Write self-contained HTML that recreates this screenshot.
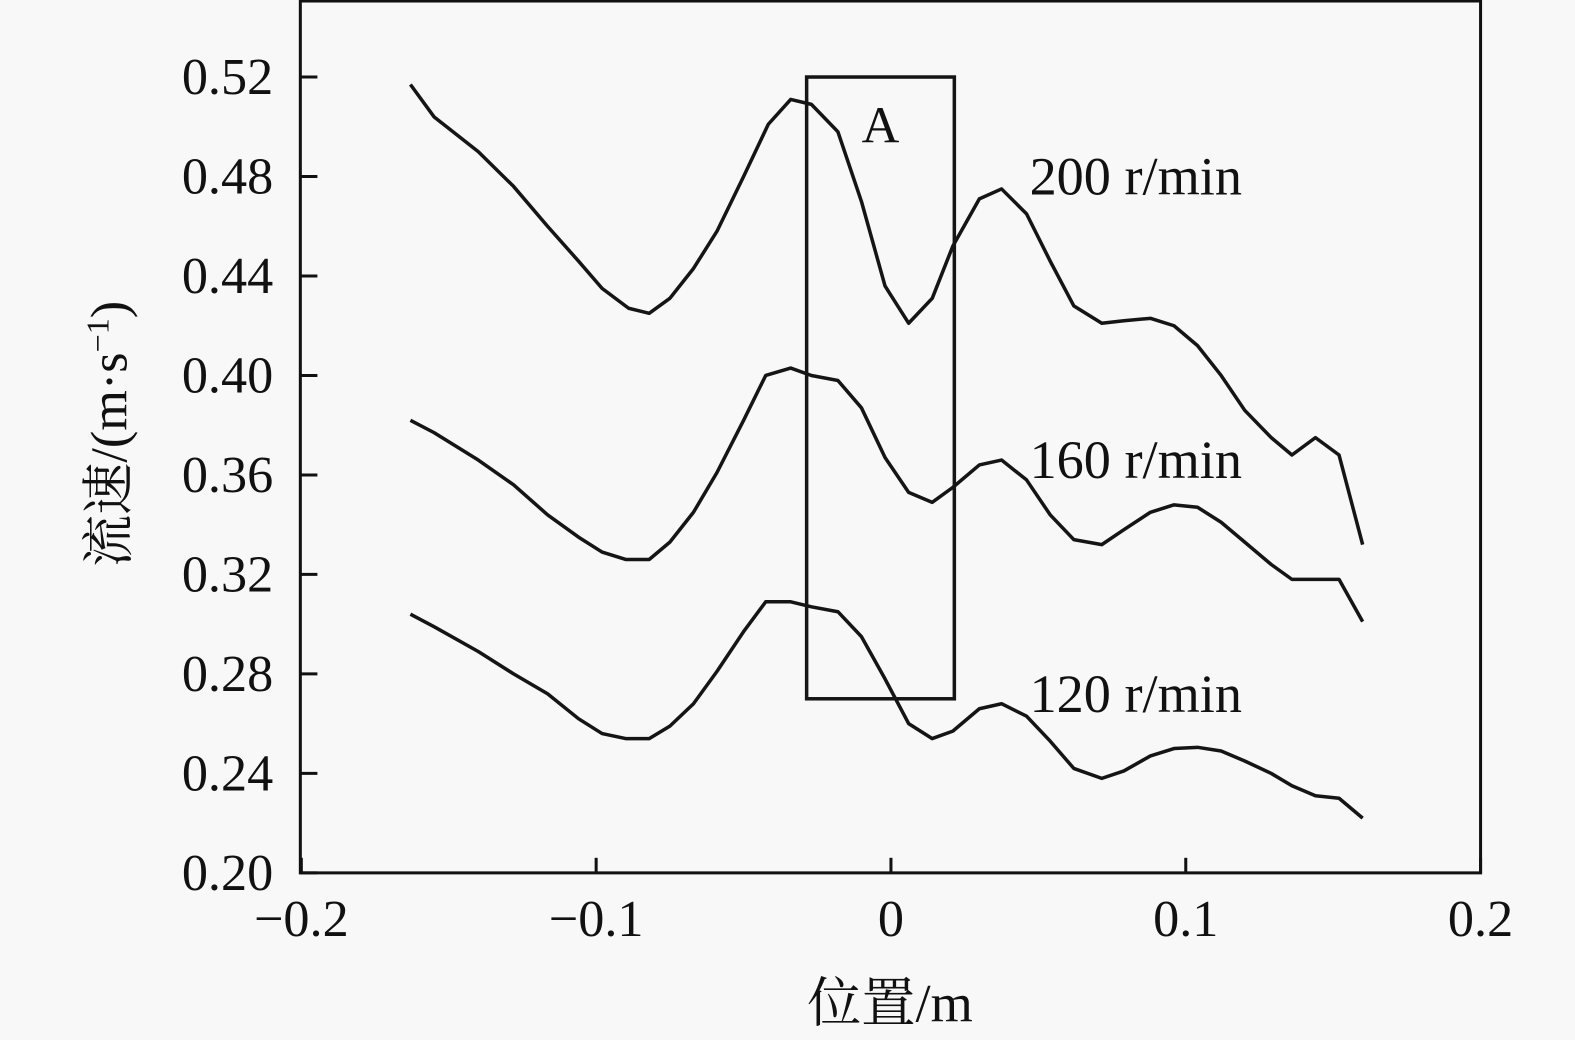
<!DOCTYPE html>
<html><head><meta charset="utf-8"><style>
html,body{margin:0;padding:0;background:#f8f8f8;}
svg{display:block;}
text{font-family:"Liberation Serif","Noto Serif CJK SC",serif;fill:#111;}
</style></head><body>
<svg id="chart" width="1575" height="1040">
<rect x="0" y="0" width="1575" height="1040" fill="#f8f8f8"/>
<g transform="scale(1.00446)">
<g id="axes"></g>
<g id="series"></g>
<g id="annot"></g>
</g>
</svg>
<script>
const xTicks = [-0.2, -0.1, 0, 0.1, 0.2];
const xTickLabels = ["\u22120.2", "\u22120.1", "0", "0.1", "0.2"];
const yTicks = [0.20, 0.24, 0.28, 0.32, 0.36, 0.40, 0.44, 0.48, 0.52];
const yTickLabels = ["0.20","0.24","0.28","0.32","0.36","0.40","0.44","0.48","0.52"];
const seriesNames = ["200 r/min", "160 r/min", "120 r/min"];
const x200 = [-0.163,-0.155,-0.140,-0.128,-0.1165,-0.106,-0.098,-0.089,-0.082,-0.075,-0.067,-0.059,-0.050,-0.0416,-0.034,-0.027,-0.018,-0.010,-0.002,0.006,0.014,0.021,0.030,0.0375,0.046,0.054,0.062,0.0715,0.079,0.088,0.096,0.104,0.112,0.120,0.129,0.136,0.144,0.152,0.160];
const y200 = [0.517,0.504,0.490,0.476,0.460,0.446,0.435,0.427,0.425,0.431,0.443,0.458,0.480,0.501,0.511,0.509,0.498,0.470,0.436,0.421,0.431,0.452,0.471,0.475,0.465,0.446,0.428,0.421,0.422,0.423,0.420,0.412,0.400,0.386,0.375,0.368,0.375,0.368,0.332];
const x160 = [-0.163,-0.155,-0.140,-0.128,-0.1165,-0.106,-0.098,-0.090,-0.082,-0.075,-0.067,-0.059,-0.050,-0.0425,-0.034,-0.027,-0.018,-0.010,-0.002,0.006,0.014,0.021,0.030,0.0375,0.046,0.054,0.062,0.0715,0.079,0.088,0.096,0.104,0.112,0.120,0.129,0.136,0.144,0.152,0.160];
const y160 = [0.382,0.377,0.366,0.356,0.344,0.335,0.329,0.326,0.326,0.333,0.345,0.361,0.382,0.400,0.403,0.400,0.398,0.387,0.367,0.353,0.349,0.355,0.364,0.366,0.358,0.344,0.334,0.332,0.338,0.345,0.348,0.347,0.341,0.333,0.324,0.318,0.318,0.318,0.301];
const x120 = x160;
const y120 = [0.304,0.299,0.289,0.280,0.272,0.262,0.256,0.254,0.254,0.259,0.268,0.281,0.297,0.309,0.309,0.307,0.305,0.295,0.278,0.260,0.254,0.257,0.266,0.268,0.263,0.253,0.242,0.238,0.241,0.247,0.250,0.2505,0.249,0.245,0.240,0.235,0.231,0.230,0.222];
const boxX = [-0.0286, 0.0215];
const boxY = [0.27, 0.52];

const L=299, R=1474, T=1, B=869;
const sx = v => 887 + v*2935;
const sy = v => 869 - (v-0.20)/0.04*99.04;
const NS="http://www.w3.org/2000/svg";
function mk(tag, attrs, parent, txt){const e=document.createElementNS(NS,tag);for(const k in attrs)e.setAttribute(k,attrs[k]);if(txt!==undefined)e.textContent=txt;parent.appendChild(e);return e;}
const axes=document.getElementById('axes'), ser=document.getElementById('series'), ann=document.getElementById('annot');

let fr=mk('rect',{x:L,y:T,width:R-L,height:B-T,fill:'none',stroke:'#111','stroke-width':3},axes);



xTicks.forEach((v,i)=>{
  let t=mk('line',{x1:sx(v),x2:sx(v),y1:B,y2:B-15,stroke:'#111','stroke-width':3},axes);
  
  
  let lb=mk('text',{x:sx(v),y:932,'text-anchor':'middle','font-size':52},axes,xTickLabels[i]);
  
  
});
yTicks.forEach((v,i)=>{
  let t=mk('line',{x1:L,x2:L+17,y1:sy(v),y2:sy(v),stroke:'#111','stroke-width':3},axes);
  
  
  let lb=mk('text',{x:272,y:sy(v)+17,'text-anchor':'end','font-size':52},axes,yTickLabels[i]);
  
  
});
let xt=mk('text',{x:886,y:1017,'text-anchor':'middle','font-size':54},axes,'位置/m');


let yt=mk('text',{x:0,y:0,'text-anchor':'middle','font-size':52,transform:'translate(126,432) rotate(-90)'},axes);


yt.innerHTML='流速/(m·s<tspan dy="-18" font-size="32">\u22121</tspan><tspan dy="18">)</tspan>';

const allX=[x200,x160,x120], allY=[y200,y160,y120];
const labelY=[0.48,0.366,0.272];
allX.forEach((xs,k)=>{
  const d=xs.map((v,i)=>(i?'L':'M')+sx(v).toFixed(1)+','+sy(allY[k][i]).toFixed(1)).join(' ');
  let p=mk('path',{d:d,fill:'none',stroke:'#151515','stroke-width':3.5,'stroke-linejoin':'round'},ser);
  
  
  let lb=mk('text',{x:1025,y:sy(labelY[k])+18,'font-size':54},ann,seriesNames[k]);
  
  
});
let bx=mk('rect',{x:sx(boxX[0]),y:sy(boxY[1]),width:sx(boxX[1])-sx(boxX[0]),height:sy(boxY[0])-sy(boxY[1]),fill:'none',stroke:'#151515','stroke-width':3.5},ann);


let al=mk('text',{x:(sx(boxX[0])+sx(boxX[1]))/2,y:142,'text-anchor':'middle','font-size':52},ann,'A');


</script>
</body></html>
